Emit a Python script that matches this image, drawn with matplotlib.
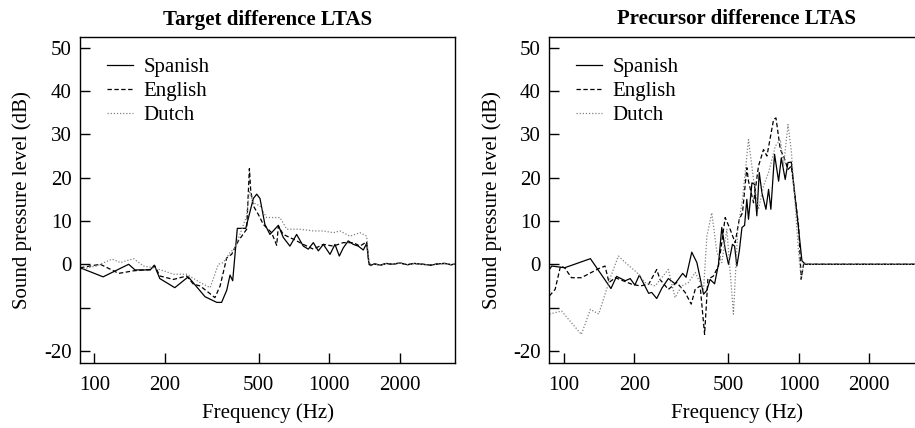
import matplotlib
matplotlib.use("Agg")
import matplotlib.pyplot as plt
from matplotlib.ticker import FixedLocator, FixedFormatter, NullLocator

plt.rcParams["font.family"] = ["Liberation Serif", "DejaVu Serif"]

# Target panel (Hz, dB)
target_spanish_hz = [87, 109, 140, 149, 173, 180, 190, 220, 251, 296, 332, 348, 366, 378, 388,
                     406, 441, 475, 491, 507, 532, 559, 607, 637, 680, 726, 775, 814, 855, 898,
                     943, 1007, 1057, 1103, 1147, 1204, 1265, 1328, 1395, 1442, 1475, 1500]
target_spanish_db = [-0.8, -2.9, 0.0, -1.3, -1.3, -0.2, -3.3, -5.4, -2.9, -7.5, -8.8, -8.8, -6.0, -2.5, -3.8,
                     8.3, 8.3, 15.2, 16.2, 15.2, 9.2, 6.9, 9.0, 6.2, 4.2, 6.9, 4.2, 3.5, 5.0, 3.1,
                     4.6, 2.3, 4.6, 1.9, 3.8, 5.4, 4.6, 4.2, 3.3, 4.8, 0.0, -0.3]

target_english_hz = [87, 106, 127, 147, 173, 181, 190, 217, 247, 264, 282, 306, 326, 343, 366, 384,
                     410, 445, 457, 463, 475, 499, 524, 568, 597, 607, 637, 703, 775, 855, 943,
                     1040, 1147, 1265, 1351, 1442, 1475, 1500]
target_english_db = [-0.8, 0.0, -2.1, -1.5, -1.2, -0.4, -2.7, -3.5, -2.7, -4.6, -5.0, -6.5, -7.7, -5.0, 1.5, 2.3,
                     5.4, 8.1, 22.1, 17.0, 13.5, 11.5, 9.2, 7.3, 4.4, 8.8, 6.9, 5.8, 4.6, 3.5, 4.6,
                     4.2, 5.0, 5.0, 4.2, 5.2, 0.4, -0.2]

target_dutch_hz = [87, 102, 119, 129, 147, 162, 178, 197, 217, 247, 282, 311, 337, 354, 378, 397,
                   445, 457, 475, 507, 541, 617, 659, 750, 855, 943, 1040, 1110, 1224, 1351,
                   1442, 1475, 1500]
target_dutch_db = [-1.2, -0.4, 1.2, 0.4, 1.3, -0.4, -0.8, -1.5, -2.3, -2.3, -4.2, -5.4, 0.0, 0.4, 2.7, 3.8,
                   11.2, 17.0, 14.2, 13.5, 10.8, 10.8, 8.1, 8.1, 7.7, 7.7, 7.3, 7.7, 6.5, 7.3,
                   6.5, 0.0, -0.2]

target_tail_hz = [1550, 1650, 1750, 1850, 2000, 2150, 2300, 2500, 2700, 2900, 3100, 3300, 3450]
target_tail_db = [0.1, -0.2, 0.2, 0.0, 0.3, -0.1, 0.2, 0.0, -0.2, 0.1, 0.2, -0.1, 0.1]

# Precursor panel (Hz, dB)
precursor_spanish_hz = [87, 89, 101, 130, 159, 168, 183, 192, 201, 210, 230, 237, 249, 262, 279,
                        298, 321, 332, 351, 369, 394, 407, 420, 439, 456, 471, 487, 503, 523, 534,
                        546, 559, 574, 589, 602, 612, 633, 649, 664, 680, 698, 726, 745, 762,
                        790, 822, 844, 877, 901, 931, 1000, 1033, 1068]
precursor_spanish_db = [-1.2, -0.4, -0.8, 1.3, -5.6, -2.8, -3.8, -3.3, -4.8, -2.5, -6.7, -6.5, -7.9, -5.5, -3.3,
                        -4.5, -2.1, -3.0, 2.8, 0.4, -6.9, -6.0, -3.5, -4.5, 0.0, 8.5, 3.5, 0.0, 4.6, 4.2,
                        -0.4, 3.0, 8.5, 9.0, 15.0, 10.4, 18.8, 18.5, 11.2, 21.2, 16.5, 12.7, 17.3, 12.7,
                        25.4, 19.2, 24.6, 19.6, 23.5, 23.6, 8.1, 0.8, 0.0]

precursor_english_hz = [87, 92, 97, 101, 108, 119, 141, 150, 156, 166, 195, 212, 230, 249, 257,
                        279, 303, 329, 349, 363, 381, 398, 411, 434, 456, 471, 487, 511, 537,
                        559, 577, 602, 612, 643, 675, 709, 733, 783, 801, 836, 863, 901, 931,
                        1000, 1026, 1050]
precursor_english_db = [-7.3, -5.8, -0.4, -0.8, -3.1, -3.1, -1.0, -0.4, -4.2, -3.1, -4.6, -5.0, -4.6, -1.2, -3.5,
                        -5.8, -4.2, -6.5, -9.2, -5.8, -5.0, -16.2, -3.5, -2.7, -0.4, 5.0, 10.8, 8.1, 5.0,
                        10.4, 11.9, 22.3, 19.2, 14.2, 22.7, 26.5, 25.0, 33.5, 33.8, 26.5, 25.0, 21.9, 22.7,
                        8.8, -3.5, 0.0]

precursor_dutch_hz = [87, 98, 119, 130, 141, 158, 171, 183, 205, 222, 245, 279, 298, 318, 340,
                      363, 394, 407, 427, 449, 471, 495, 528, 551, 577, 612, 643, 675, 709,
                      745, 796, 836, 863, 901, 931, 1000, 1026, 1050]
precursor_dutch_db = [-11.5, -10.8, -16.2, -10.4, -11.5, -3.1, 1.9, 0.4, -1.9, -4.2, -5.0, -1.2, -7.7, -5.0, -4.2,
                      -1.9, -5.8, 6.5, 11.9, 2.7, 0.4, 8.1, -11.5, 8.1, 15.0, 28.8, 19.6, 12.7, 18.1,
                      21.2, 27.3, 28.8, 22.7, 32.3, 26.2, 2.7, -3.5, 0.4]

precursor_tail_hz = [1100, 1300, 1600, 2000, 2500, 3000, 3450]
precursor_tail_db = [0.0, 0.0, 0.0, 0.0, 0.0, 0.0, 0.0]

language_names = ["Spanish", "English", "Dutch"]
freq_ticks = [100, 200, 500, 1000, 2000]
level_ticks = [-20, -10, 0, 10, 20, 30, 40, 50]
level_labels = ["-20", "", "0", "10", "20", "30", "40", "50"]

styles = [
    dict(color="black", linestyle="-", linewidth=0.9),
    dict(color="black", linestyle=(0, (3.5, 2)), linewidth=0.9),
    dict(color="#808080", linestyle=(0, (1, 1.5)), linewidth=0.9),
]


def draw_panel(ax, title, series, tail_hz, tail_db):
    for (hz, db), name, st in zip(series, language_names, styles):
        ax.plot(hz + tail_hz, db + tail_db, label=name, **st)
    ax.set_xscale("log")
    ax.set_xlim(86.9, 3427)
    ax.set_ylim(-22.8, 52.5)
    ax.xaxis.set_major_locator(FixedLocator(freq_ticks))
    ax.xaxis.set_major_formatter(FixedFormatter([str(t) for t in freq_ticks]))
    ax.xaxis.set_minor_locator(NullLocator())
    ax.yaxis.set_major_locator(FixedLocator(level_ticks))
    ax.yaxis.set_major_formatter(FixedFormatter(level_labels))
    ax.tick_params(direction="in", length=7, width=1, labelsize=15)
    ax.tick_params(axis="x", pad=9)
    ax.tick_params(axis="y", pad=6)
    for sp in ax.spines.values():
        sp.set_linewidth(1)
    ax.set_title(title, fontsize=15, fontweight="bold", pad=9)
    ax.set_xlabel("Frequency (Hz)", fontsize=15, labelpad=6)
    ax.set_ylabel("Sound pressure level (dB)", fontsize=15, labelpad=8.5)
    ax.legend(loc="upper left", bbox_to_anchor=(0.05, 0.962), frameon=False, fontsize=15,
              handlelength=1.25, handletextpad=0.5, labelspacing=0.2, borderaxespad=0)


fig = plt.figure(figsize=(9.15, 4.28), dpi=100)
ax1 = fig.add_axes([80 / 915, 65 / 428, 375 / 915, 326 / 428])
ax2 = fig.add_axes([549.3 / 915, 65 / 428, 375 / 915, 326 / 428])

draw_panel(ax1, "Target difference LTAS",
           [(target_spanish_hz, target_spanish_db),
            (target_english_hz, target_english_db),
            (target_dutch_hz, target_dutch_db)],
           target_tail_hz, target_tail_db)
draw_panel(ax2, "Precursor difference LTAS",
           [(precursor_spanish_hz, precursor_spanish_db),
            (precursor_english_hz, precursor_english_db),
            (precursor_dutch_hz, precursor_dutch_db)],
           precursor_tail_hz, precursor_tail_db)

fig.savefig("out.png", dpi=100)
plt.close(fig)
